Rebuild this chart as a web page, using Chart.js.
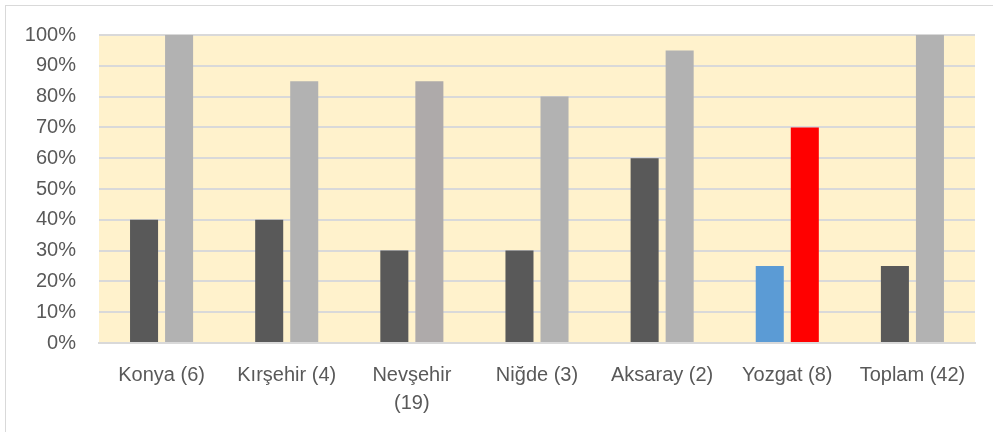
<!DOCTYPE html>
<html>
<head>
<meta charset="utf-8">
<script src="https://cdn.jsdelivr.net/npm/chart.js@4"></script>
<style>
  html, body { margin: 0; padding: 0; background: #fff; overflow: hidden; }
  .frame { position: absolute; left: 5px; top: 5px; width: 1000px; height: 500px; border: 1px solid #d9d9d9; }
  .wrap { position: absolute; left: 0; top: 0; width: 993px; height: 432px; }
</style>
</head>
<body>
<div class="frame"></div>
<div class="wrap"><canvas id="chart" width="993" height="432"></canvas></div>
<script>
Chart.defaults.font.family = "'Liberation Sans', Arial, sans-serif";
Chart.defaults.font.size = 20;
Chart.defaults.color = "#595959";

const categories = ["Konya (6)", "Kırşehir (4)", ["Nevşehir", "(19)"], "Niğde (3)", "Aksaray (2)", "Yozgat (8)", "Toplam (42)"];
const seriesA = [40, 40, 30, 30, 60, 25, 25];
const seriesB = [100, 85, 85, 80, 95, 70, 100];
const colorsA = ["#595959", "#595959", "#595959", "#595959", "#595959", "#5b9bd5", "#595959"];
const colorsB = ["#b2b2b2", "#b2b2b2", "#aeaaaa", "#b2b2b2", "#b2b2b2", "#ff0000", "#b2b2b2"];

// cream fill behind the plot area
const plotBg = {
  id: "plotBg",
  beforeDraw(chart) {
    const { ctx, chartArea: a } = chart;
    ctx.save();
    ctx.fillStyle = "#fff2cc";
    ctx.fillRect(a.left, a.top, a.right - a.left, a.bottom - a.top);
    ctx.restore();
  },
};

new Chart(document.getElementById("chart"), {
  type: "bar",
  plugins: [plotBg],
  data: {
    labels: categories,
    datasets: [
      { data: seriesA, backgroundColor: colorsA, categoryPercentage: 0.56, barPercentage: 0.8 },
      { data: seriesB, backgroundColor: colorsB, categoryPercentage: 0.56, barPercentage: 0.8 },
    ],
  },
  options: {
    responsive: false,
    animation: false,
    layout: { padding: { left: 0, top: 35, right: 18, bottom: 0 } },
    plugins: { legend: { display: false }, tooltip: { enabled: false } },
    scales: {
      x: {
        grid: { display: false, drawTicks: false },
        border: { color: "#d9d9d9", width: 2 },
        ticks: { padding: 18, maxRotation: 0, autoSkip: false, font: { lineHeight: 1.4 } },
        afterFit: (s) => { s.height = 89; },
      },
      y: {
        min: 0,
        max: 100,
        grid: { color: "#d9d9d9", lineWidth: 2, drawTicks: false },
        border: { display: false },
        ticks: { stepSize: 10, padding: 23, callback: (v) => v + "%" },
        afterFit: (s) => { s.width = 99; },
      },
    },
  },
});
</script>
</body>
</html>
